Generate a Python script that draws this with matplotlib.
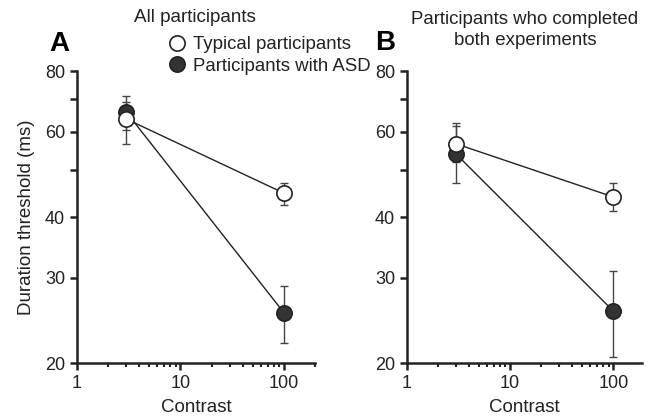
import numpy as np
import matplotlib.pyplot as plt
from matplotlib.ticker import NullFormatter, FixedLocator, LogLocator

plt.rcParams['font.family'] = ['Liberation Sans', 'DejaVu Sans']

contrast = [3, 100]

# panel A: all participants
a_typ = [63.7, 44.8]
a_typ_lo = [56.6, 42.3]
a_typ_hi = [69.0, 47.0]
a_asd = [65.8, 25.4]
a_asd_lo = [60.5, 22.0]
a_asd_hi = [71.0, 28.8]

# panel B: participants who completed both experiments
b_typ = [56.6, 44.0]
b_typ_lo = [51.9, 41.2]
b_typ_hi = [61.7, 47.0]
b_asd = [53.9, 25.6]
b_asd_lo = [47.0, 20.6]
b_asd_hi = [62.4, 31.0]

yticks = [20, 30, 40, 60, 80]
yminor = [50, 70]

txt = '#222222'

fig = plt.figure(figsize=(6.53, 4.16), dpi=100)
axA = fig.add_axes([0.1179, 0.1274, 0.3645, 0.7019])
axB = fig.add_axes([0.6233, 0.1274, 0.3599, 0.7019])


def draw(ax, typ, typ_lo, typ_hi, asd, asd_lo, asd_hi, xmax):
    ax.set_xscale('log')
    ax.set_yscale('log')
    err_t = [np.array(typ) - np.array(typ_lo), np.array(typ_hi) - np.array(typ)]
    err_a = [np.array(asd) - np.array(asd_lo), np.array(asd_hi) - np.array(asd)]
    ax.errorbar(contrast, asd, yerr=err_a, fmt='none', ecolor='#444444',
                elinewidth=1, capsize=3, capthick=1, zorder=1)
    ax.errorbar(contrast, typ, yerr=err_t, fmt='none', ecolor='#444444',
                elinewidth=1, capsize=3, capthick=1, zorder=1)
    ax.plot(contrast, asd, '-', color='#222222', lw=1, zorder=2)
    ax.plot(contrast, typ, '-', color='#222222', lw=1, zorder=2)
    l2, = ax.plot(contrast, asd, 'o', ms=11, mfc='#333333', mec='#222222',
                  mew=1.2, zorder=3, label='Participants with ASD')
    l1, = ax.plot(contrast, typ, 'o', ms=11, mfc='white', mec='#222222',
                  mew=1.2, zorder=4, label='Typical participants')
    ax.set_xlim(1, xmax)
    ax.set_ylim(20, 80)
    ax.yaxis.set_major_locator(FixedLocator(yticks))
    ax.yaxis.set_minor_locator(FixedLocator(yminor))
    ax.yaxis.set_major_formatter(plt.FixedFormatter([str(t) for t in yticks]))
    ax.yaxis.set_minor_formatter(NullFormatter())
    ax.xaxis.set_major_locator(FixedLocator([1, 10, 100]))
    ax.xaxis.set_major_formatter(plt.FixedFormatter(['1', '10', '100']))
    ax.xaxis.set_minor_locator(LogLocator(base=10, subs=np.arange(2, 10), numticks=10))
    ax.xaxis.set_minor_formatter(NullFormatter())
    for s in ['top', 'right']:
        ax.spines[s].set_visible(False)
    for s in ['left', 'bottom']:
        ax.spines[s].set_linewidth(1.8)
        ax.spines[s].set_color('#222222')
    ax.tick_params(which='major', direction='out', length=5, width=1.8,
                   labelsize=13, colors='#222222', labelcolor=txt)
    ax.tick_params(axis='x', which='minor', direction='out', length=3, width=1.5,
                   colors='#222222')
    ax.tick_params(axis='y', which='minor', direction='out', length=5, width=1.8,
                   colors='#222222')
    ax.set_xlabel('Contrast', fontsize=13.5, color=txt, labelpad=5)
    return l1, l2


l1, l2 = draw(axA, a_typ, a_typ_lo, a_typ_hi, a_asd, a_asd_lo, a_asd_hi, 200)
draw(axB, b_typ, b_typ_lo, b_typ_hi, b_asd, b_asd_lo, b_asd_hi, 190)

axA.set_ylabel('Duration threshold (ms)', fontsize=13.5, color=txt, labelpad=7)

axA.legend([l1, l2], ['Typical participants', 'Participants with ASD'],
           loc='upper left', bbox_to_anchor=(0.34, 1.145), frameon=False,
           fontsize=13.4, handletextpad=0.3, borderaxespad=0, labelspacing=0.25,
           handlelength=1.2, labelcolor=txt)

fig.text(0.299, 0.959, 'All participants', ha='center', va='center',
         fontsize=13.6, color=txt)
fig.text(0.804, 0.928, 'Participants who completed\nboth experiments',
         ha='center', va='center', fontsize=13.4, color=txt, linespacing=1.3)
fig.text(0.076, 0.895, 'A', fontsize=20, fontweight='bold', ha='left', va='center')
fig.text(0.575, 0.897, 'B', fontsize=20, fontweight='bold', ha='left', va='center')

fig.savefig('out.png', dpi=100)
